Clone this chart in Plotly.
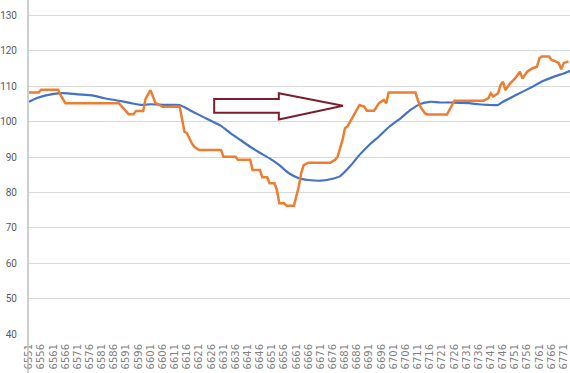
import plotly.graph_objects as go

# ---- data ----
orange_x = [6551, 6555, 6556, 6563, 6564, 6566, 6588, 6590, 6592, 6594, 6595, 6598,
            6599, 6601, 6603, 6606, 6613, 6615, 6616, 6618, 6619, 6621, 6630, 6631,
            6636, 6637, 6642, 6643, 6646, 6647, 6649, 6650, 6652, 6653, 6654, 6656,
            6657, 6660, 6662, 6663, 6664, 6666, 6675, 6677, 6678, 6680, 6681, 6682,
            6684, 6686, 6687, 6689, 6690, 6693, 6694, 6695, 6697, 6698, 6699, 6710,
            6711, 6712, 6714, 6715, 6723, 6724, 6726, 6738, 6740, 6741, 6742, 6744,
            6745, 6746, 6747, 6749, 6751, 6753, 6754, 6756, 6758, 6760, 6761, 6762,
            6765, 6766, 6767, 6769, 6770, 6771, 6773]
orange_y = [108.2, 108.2, 109.0, 109.0, 107.5, 105.2, 105.2, 103.5, 102.1, 102.1, 103.0, 103.0,
            106.5, 108.9, 105.3, 104.2, 104.2, 97.1, 96.7, 93.9, 92.9, 92.0, 92.0, 90.1,
            90.1, 89.2, 89.2, 86.3, 86.3, 84.3, 84.3, 82.6, 82.6, 80.7, 76.9, 76.9,
            76.2, 76.2, 81.6, 85.4, 87.7, 88.4, 88.4, 89.2, 90.1, 94.8, 98.1, 98.6,
            100.9, 103.3, 104.7, 104.2, 103.1, 103.1, 104.2, 105.2, 106.1, 105.2, 108.2, 108.2,
            106.1, 104.2, 102.3, 102.0, 102.0, 103.3, 105.9, 105.9, 106.6, 108.0, 107.1, 108.0,
            110.3, 111.3, 108.9, 110.8, 112.2, 114.1, 112.2, 114.1, 115.0, 115.5, 117.9, 118.4,
            118.4, 117.4, 117.2, 116.5, 114.8, 116.5, 117.0]

blue_x = [6551, 6554, 6558, 6563, 6567, 6571, 6577, 6582, 6588, 6593, 6597, 6601,
          6607, 6613, 6617, 6621, 6625, 6630, 6634, 6638, 6642, 6646, 6650, 6654,
          6658, 6662, 6666, 6671, 6675, 6679, 6683, 6687, 6691, 6695, 6699, 6704,
          6708, 6712, 6716, 6720, 6724, 6728, 6732, 6736, 6740, 6744, 6746, 6750,
          6754, 6758, 6762, 6767, 6771, 6774]
blue_y = [105.6, 106.6, 107.4, 108.0, 108.0, 107.7, 107.4, 106.6, 105.9, 105.2, 104.7, 104.9,
          104.7, 104.7, 103.3, 101.9, 100.5, 98.8, 96.7, 94.8, 92.9, 91.2, 89.6, 87.7,
          85.4, 84.0, 83.5, 83.3, 83.7, 84.6, 87.3, 90.6, 93.4, 95.8, 98.4, 101.0,
          103.3, 105.0, 105.6, 105.4, 105.4, 105.3, 105.2, 104.9, 104.7, 104.7, 105.6, 107.0,
          108.4, 109.8, 111.3, 112.7, 113.6, 114.4]

x_ticks = list(range(6551, 6772, 5))
x_tick_labels = [str(v) for v in x_ticks]
y_ticks = [40, 50, 60, 70, 80, 90, 100, 110, 120, 130]

# arrow annotation outline (data units)
arrow_x = [6627.2, 6653.8, 6653.8, 6680.2, 6653.8, 6653.8, 6627.2]
arrow_y = [106.4, 106.4, 108.0, 104.5, 100.6, 102.5, 102.5]

fig = go.Figure()
fig.add_trace(go.Scatter(x=blue_x, y=blue_y, mode="lines",
                         line=dict(color="#4472C4", width=2.2, shape="spline", smoothing=0.5),
                         showlegend=False, hoverinfo="skip"))
fig.add_trace(go.Scatter(x=orange_x, y=orange_y, mode="lines",
                         line=dict(color="#ED7D31", width=2.5),
                         showlegend=False, hoverinfo="skip"))

path = "M " + " L ".join(f"{a},{b}" for a, b in zip(arrow_x, arrow_y)) + " Z"
fig.add_shape(type="path", path=path, xref="x", yref="y",
              line=dict(color="#7B1E2E", width=2), fillcolor="white", layer="above")
# y-axis line extending through label area
fig.add_shape(type="line", xref="paper", yref="paper", x0=0, x1=0, y0=-0.13, y1=1,
              line=dict(color="#BFBFBF", width=1.5))

fig.update_layout(
    width=570, height=373,
    margin=dict(l=28, r=0, t=0, b=39),
    paper_bgcolor="white", plot_bgcolor="white",
    font=dict(family="Liberation Sans Narrow, Roboto, sans-serif", color="#595959"),
    xaxis=dict(range=[6550.6, 6773.6], tickvals=x_ticks, ticktext=x_tick_labels,
               tickangle=-90, tickfont=dict(size=10, family="DejaVu Sans", color="#7F7F7F"),
               showgrid=False, zeroline=False, showline=False, ticks="",
               ticklabelstandoff=7, automargin=False),
    yaxis=dict(range=[40, 134.35], tickvals=y_ticks, tickfont=dict(size=10),
               showgrid=True, gridcolor="#D9D9D9", gridwidth=1, zeroline=False,
               showline=False, ticks="", ticklabelstandoff=10, automargin=False),
)

fig.write_html("out.html", config={"displayModeBar": False},
               post_script="document.body.style.margin='0';document.body.style.overflow='hidden';")
